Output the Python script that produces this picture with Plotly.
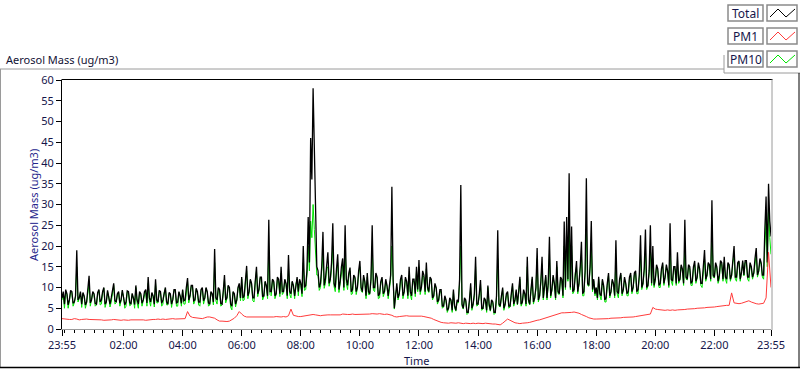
import pandas as pd
import plotly.graph_objects as go

# ---- data: Total / PM10 every 2.5 min, PM1 every 5 min, from 23:55 ----
START = "2013-01-01 23:55"

TOTAL = [7.5, 9.0,
    6.0, 9.5, 8.5, 5.8, 7.0, 9.3, 9.0, 6.2, 6.5, 8.0, 19.0, 7.0, 7.5, 9.0, 6.0, 8.8, 8.0, 5.8, 6.5, 9.2, 12.8, 6.3, 7.0, 9.0,
    8.5, 6.2, 6.0, 8.8, 9.5, 6.5, 7.0, 9.0, 10.0, 6.0, 6.5, 9.3, 8.0, 6.0, 7.5, 9.5, 11.0, 6.8, 6.5, 8.5, 9.0, 6.2, 7.0, 9.4,
    8.0, 5.8, 6.5, 9.2, 9.0, 6.4, 6.0, 8.6, 7.5, 5.9, 10.5, 7.0, 6.0, 9.0, 8.5, 6.2, 7.0, 9.0, 9.5, 6.3, 12.5, 7.5, 6.5, 8.8,
    8.0, 6.0, 12.0, 7.0, 6.5, 9.3, 9.0, 6.2, 7.0, 9.0, 10.0, 6.5, 6.0, 8.8, 8.5, 6.0, 7.0, 9.5, 9.5, 6.3, 6.5, 9.0, 8.0, 6.2,
    9.5, 6.8, 7.0, 10.0, 12.3, 7.0, 8.0, 10.5, 10.5, 6.8, 7.0, 9.8, 9.0, 6.5, 6.5, 9.5, 10.0, 6.8, 7.5, 10.0, 9.0, 6.3, 6.0, 9.0,
    8.5, 6.5, 19.3, 7.5, 7.0, 10.0, 9.5, 6.2, 6.0, 9.0, 13.0, 7.0, 7.5, 10.5, 10.0, 6.0, 5.5, 9.0, 8.5, 6.0, 7.0, 10.0, 11.0, 7.5,
    12.5, 7.5, 8.0, 11.5, 15.2, 8.0, 9.0, 12.0, 11.0, 7.5, 7.5, 11.5, 15.0, 8.5, 9.5, 12.5, 12.5, 7.8, 8.0, 11.5, 10.5, 8.0, 26.3, 9.0,
    9.0, 12.0, 11.5, 8.0, 8.5, 12.5, 12.0, 8.5, 15.0, 9.0, 9.0, 12.0, 11.0, 8.0, 17.8, 9.0, 8.5, 11.5, 10.5, 8.0, 11.0, 12.5, 9.0, 12.0,
    11.0, 8.5, 20.0, 10.0, 10.5, 14.0, 27.0, 16.0, 46.0, 36.0, 58.0, 44.0, 25.0, 15.0, 14.0, 10.0, 11.0, 15.0, 23.4, 10.5, 12.0, 16.0, 18.5, 11.0,
    12.0, 16.0, 25.5, 11.0, 10.0, 14.5, 18.0, 9.5, 11.5, 15.0, 17.0, 10.0, 25.0, 12.0, 10.5, 13.5, 14.8, 9.0, 9.5, 13.0, 12.5, 9.0, 10.0, 14.0,
    16.4, 10.0, 9.0, 13.0, 11.5, 8.0, 13.5, 9.0, 8.5, 12.0, 25.0, 10.0, 10.0, 13.5, 12.5, 8.0, 8.5, 11.5, 12.5, 8.5, 9.0, 12.0, 10.5, 8.0,
    10.0, 13.0, 34.3, 12.0, 5.0, 9.0, 11.0, 7.5, 8.5, 12.0, 13.0, 8.0, 9.0, 12.5, 11.5, 8.0, 15.0, 9.0, 8.0, 12.0, 12.0, 8.5, 15.0, 9.5,
    16.6, 9.0, 10.0, 14.0, 13.0, 9.0, 16.0, 10.0, 9.0, 12.5, 12.0, 7.5, 8.0, 11.0, 10.0, 6.5, 7.0, 9.5, 9.5, 5.5, 5.5, 8.0, 7.0, 4.5,
    5.0, 7.5, 7.0, 4.5, 9.5, 5.5, 4.5, 7.0, 6.5, 12.0, 34.7, 6.0, 5.0, 7.5, 7.0, 4.0, 4.0, 7.0, 11.0, 5.0, 6.0, 8.5, 17.4, 6.0,
    6.0, 8.5, 11.8, 5.0, 5.0, 7.5, 7.0, 4.5, 10.5, 6.0, 4.5, 7.0, 6.5, 4.0, 4.0, 8.0, 23.8, 6.0, 5.5, 8.0, 10.0, 5.0, 6.0, 8.5,
    9.0, 5.5, 5.5, 8.5, 11.0, 6.0, 7.0, 9.5, 6.0, 9.0, 12.6, 6.0, 6.5, 9.5, 8.5, 6.0, 17.4, 7.0, 6.0, 9.5, 12.6, 6.5, 7.5, 10.0,
    19.5, 7.0, 8.0, 11.5, 17.4, 7.5, 10.0, 13.0, 7.5, 11.0, 22.2, 8.0, 9.5, 13.0, 11.0, 7.5, 16.4, 9.0, 8.5, 12.5, 12.0, 8.0, 25.9, 10.0,
    27.0, 12.0, 37.5, 10.0, 24.7, 9.0, 9.5, 14.0, 16.4, 9.0, 11.0, 15.0, 21.0, 8.5, 9.0, 14.0, 36.3, 11.0, 10.5, 15.0, 26.0, 9.5, 12.0, 8.5,
    10.0, 7.5, 12.6, 8.5, 8.0, 12.0, 10.5, 7.0, 7.5, 11.0, 13.5, 8.0, 9.0, 12.0, 11.0, 8.0, 21.4, 9.0, 8.5, 12.0, 13.5, 8.5, 9.5, 12.5,
    11.0, 8.5, 9.0, 12.5, 13.5, 9.0, 10.0, 13.5, 14.0, 9.0, 9.5, 13.0, 22.6, 10.0, 11.0, 14.5, 24.0, 10.0, 10.5, 14.0, 25.0, 11.0, 20.0, 10.5,
    12.0, 15.5, 14.5, 10.5, 11.0, 14.5, 16.0, 11.0, 12.5, 15.5, 14.0, 10.5, 25.5, 12.0, 11.5, 15.0, 15.0, 11.0, 18.5, 11.5, 12.0, 15.5, 14.5, 11.0,
    26.3, 12.5, 12.0, 15.5, 15.0, 11.0, 11.5, 15.0, 16.4, 11.5, 12.5, 16.0, 14.5, 11.0, 11.0, 15.0, 19.0, 12.0, 13.0, 16.0, 15.5, 12.0, 31.0, 13.0,
    12.5, 16.0, 15.0, 11.5, 13.0, 16.5, 16.0, 12.0, 17.4, 12.5, 12.0, 16.0, 15.5, 12.0, 13.0, 16.5, 20.0, 12.5, 12.5, 16.0, 16.4, 12.0, 13.5, 16.5,
    13.0, 16.5, 16.5, 12.5, 12.5, 16.0, 15.0, 12.5, 13.5, 17.0, 19.5, 13.0, 14.0, 17.0, 16.0, 13.0, 13.0, 24.0, 31.9, 16.0, 35.0, 26.0, 22.5, 22.0]

PM10 = [7.0, 8.5,
    5.0, 9.0, 8.3, 5.0, 6.8, 9.0, 8.8, 5.5, 6.3, 7.8, 15.0, 6.5, 7.3, 8.8, 5.2, 8.5, 7.8, 5.0, 6.3, 9.0, 11.0, 5.5, 6.8, 8.8,
    8.3, 5.5, 5.8, 8.5, 9.3, 5.8, 6.0, 8.8, 9.8, 5.2, 6.3, 9.0, 7.8, 5.3, 6.5, 9.3, 10.5, 6.0, 6.3, 8.3, 8.8, 5.5, 6.8, 9.0,
    7.8, 5.0, 5.5, 9.0, 8.8, 5.6, 5.8, 8.3, 7.3, 5.0, 10.0, 6.3, 5.0, 8.8, 8.3, 5.5, 6.8, 8.8, 9.3, 5.5, 11.0, 6.8, 5.5, 8.5,
    7.8, 5.3, 11.0, 6.3, 6.3, 9.0, 8.8, 5.5, 6.0, 8.8, 9.8, 5.8, 5.8, 8.5, 8.3, 5.2, 6.8, 9.3, 9.3, 5.5, 5.5, 8.8, 7.8, 5.5,
    9.3, 6.0, 6.0, 9.8, 11.5, 6.3, 7.8, 10.3, 10.3, 6.0, 6.8, 9.5, 8.8, 5.8, 5.5, 9.3, 9.8, 6.0, 7.3, 9.8, 8.8, 5.5, 5.8, 8.8,
    8.3, 5.8, 16.0, 6.8, 6.0, 9.8, 9.3, 5.5, 5.8, 8.8, 12.0, 6.3, 7.3, 10.3, 9.8, 5.3, 4.6, 8.8, 8.3, 5.3, 6.8, 9.8, 10.5, 6.8,
    12.0, 6.8, 7.0, 11.3, 14.0, 7.3, 8.8, 11.8, 10.8, 6.8, 6.5, 11.3, 14.0, 7.8, 9.3, 12.3, 12.0, 7.0, 7.8, 11.3, 10.3, 7.3, 19.0, 8.3,
    8.0, 11.8, 11.3, 7.3, 8.3, 12.0, 11.5, 7.8, 13.5, 8.3, 8.8, 11.8, 10.8, 7.3, 14.5, 8.3, 7.5, 11.3, 10.3, 7.3, 10.8, 12.0, 8.0, 11.8,
    10.5, 7.8, 16.0, 9.3, 9.5, 13.0, 20.0, 14.0, 26.0, 22.0, 30.0, 24.0, 18.0, 13.0, 13.0, 9.3, 10.0, 13.5, 18.0, 9.8, 11.0, 14.5, 15.0, 10.3,
    11.8, 14.5, 20.0, 10.3, 9.0, 13.5, 16.0, 8.8, 11.3, 14.0, 15.5, 9.3, 20.0, 11.0, 9.5, 13.0, 14.0, 8.3, 8.5, 12.5, 12.3, 8.3, 9.8, 13.5,
    15.0, 9.3, 8.8, 12.5, 11.3, 7.3, 12.5, 8.3, 8.3, 11.5, 20.0, 9.3, 9.0, 13.0, 12.3, 7.3, 7.5, 11.0, 12.0, 7.8, 8.8, 11.5, 10.3, 7.3,
    9.8, 12.0, 20.0, 11.0, 4.8, 8.3, 10.0, 7.0, 8.3, 11.5, 12.0, 7.3, 8.8, 12.0, 11.3, 7.3, 13.0, 8.3, 7.0, 11.5, 11.5, 7.8, 14.0, 9.0,
    15.0, 8.3, 9.8, 13.0, 12.5, 8.3, 14.5, 9.3, 8.8, 12.0, 11.5, 7.0, 7.8, 10.5, 9.8, 6.0, 6.8, 9.0, 9.0, 5.0, 5.3, 7.5, 6.8, 4.0,
    4.8, 7.0, 6.8, 4.0, 9.0, 5.0, 4.3, 6.5, 6.3, 11.0, 20.0, 5.5, 4.8, 7.0, 6.8, 3.5, 3.8, 6.5, 10.0, 4.5, 5.8, 8.0, 15.0, 5.5,
    5.8, 8.0, 11.0, 4.5, 4.8, 7.0, 6.8, 4.0, 10.0, 5.5, 4.3, 6.5, 6.3, 3.5, 3.8, 7.5, 17.0, 5.5, 5.3, 7.5, 9.5, 4.5, 5.8, 8.0,
    8.8, 5.0, 5.3, 8.0, 10.5, 5.5, 6.8, 9.0, 5.8, 8.5, 12.0, 5.5, 6.3, 9.0, 8.3, 5.5, 15.0, 6.5, 5.8, 9.0, 12.0, 6.0, 7.3, 9.5,
    17.0, 6.5, 7.8, 11.0, 15.5, 7.0, 9.8, 12.5, 7.0, 10.5, 18.0, 7.5, 9.3, 12.5, 10.5, 7.0, 15.0, 8.5, 8.3, 12.0, 11.5, 7.5, 20.0, 9.5,
    22.0, 11.5, 26.0, 9.5, 20.0, 8.5, 9.0, 13.5, 15.0, 8.5, 10.8, 14.5, 18.0, 8.0, 8.0, 13.5, 25.0, 10.5, 10.3, 14.5, 20.0, 9.0, 11.5, 8.0,
    9.8, 7.0, 12.0, 8.0, 7.0, 11.5, 10.3, 6.5, 6.5, 10.5, 13.0, 7.5, 8.8, 11.5, 10.8, 7.5, 17.0, 8.5, 7.5, 11.5, 13.0, 8.0, 9.3, 12.0,
    10.8, 8.0, 8.0, 12.0, 13.0, 8.5, 9.8, 13.0, 13.5, 8.5, 8.5, 12.5, 18.0, 9.5, 10.8, 14.0, 19.0, 9.5, 10.3, 13.5, 20.0, 10.5, 17.0, 10.0,
    11.8, 15.0, 14.0, 10.0, 10.0, 14.0, 15.5, 10.5, 12.3, 15.0, 13.5, 10.0, 20.0, 11.5, 10.5, 14.5, 14.5, 10.5, 16.0, 11.0, 11.8, 15.0, 14.0, 10.5,
    20.0, 12.0, 11.8, 15.0, 14.5, 10.5, 10.5, 14.5, 15.5, 11.0, 12.3, 15.5, 14.0, 10.5, 10.0, 14.5, 17.0, 11.5, 12.8, 15.5, 15.0, 11.5, 24.0, 12.5,
    12.3, 15.5, 14.5, 11.0, 12.0, 16.0, 15.5, 11.5, 16.0, 12.0, 11.0, 15.5, 15.0, 11.5, 12.8, 16.0, 17.5, 12.0, 11.5, 15.5, 16.0, 11.5, 13.3, 16.0,
    12.8, 16.0, 16.0, 12.0, 11.5, 15.5, 14.5, 12.0, 13.3, 16.5, 18.0, 12.5, 13.8, 16.5, 15.5, 12.5, 12.0, 20.0, 26.0, 15.0, 29.5, 22.0, 18.0, 18.0]

PM1 = [2.5,
    2.4, 2.4, 2.3, 2.3, 2.5, 2.4, 2.2, 2.3, 2.4, 2.4, 2.3, 2.3,
    2.2, 2.2, 2.3, 2.2, 2.1, 2.1, 2.2, 2.2, 2.3, 2.2, 2.1, 2.1,
    2.2, 2.1, 2.1, 2.2, 2.2, 2.3, 2.3, 2.2, 2.2, 2.1, 2.2, 2.2,
    2.3, 2.3, 2.4, 2.3, 2.4, 2.3, 2.4, 2.4, 2.5, 2.4, 2.4, 2.4,
    2.4, 2.5, 4.2, 3.1, 2.8, 2.7, 2.6, 2.6, 2.5, 2.7, 2.9, 2.9,
    2.8, 2.6, 2.2, 1.9, 1.9, 1.8, 1.8, 1.9, 2.2, 2.6, 3.2, 4.2,
    3.6, 3.1, 2.9, 2.9, 2.8, 2.8, 2.9, 2.8, 2.9, 2.9, 2.8, 2.9,
    2.9, 2.9, 3.0, 2.9, 2.9, 3.0, 2.9, 3.2, 4.8, 3.3, 3.1, 3.0,
    3.0, 3.1, 3.2, 3.2, 3.3, 3.5, 3.4, 3.3, 3.2, 3.3, 3.4, 3.4,
    3.4, 3.4, 3.5, 3.4, 3.4, 3.6, 3.5, 3.5, 3.5, 3.6, 3.5, 3.5,
    3.6, 3.6, 3.5, 3.6, 3.6, 3.7, 3.6, 3.6, 3.7, 3.6, 3.5, 3.6,
    3.5, 3.3, 3.0, 2.9, 3.0, 3.1, 3.1, 3.2, 3.1, 3.1, 3.2, 3.1,
    3.1, 3.1, 3.0, 2.9, 2.8, 2.6, 2.3, 2.0, 1.8, 1.6, 1.5, 1.4,
    1.4, 1.5, 1.4, 1.4, 1.5, 1.4, 1.3, 1.4, 1.3, 1.3, 1.4, 1.3,
    1.4, 1.3, 1.3, 1.4, 1.3, 1.3, 1.2, 1.2, 1.1, 1.0, 1.4, 2.0,
    2.4, 2.1, 1.7, 1.5, 1.4, 1.3, 1.4, 1.4, 1.5, 1.6, 1.8, 1.9,
    2.1, 2.2, 2.4, 2.6, 2.8, 3.0, 3.1, 3.3, 3.6, 3.8, 3.9, 3.9,
    3.9, 4.0, 4.0, 4.1, 4.0, 3.8, 3.5, 3.3, 3.0, 2.7, 2.5, 2.4,
    2.4, 2.4, 2.4, 2.5, 2.5, 2.5, 2.6, 2.6, 2.7, 2.7, 2.7, 2.8,
    2.8, 2.8, 2.9, 2.9, 3.0, 3.1, 3.2, 3.2, 3.3, 3.4, 3.6, 5.2,
    4.8, 4.7, 4.6, 4.6, 4.5, 4.6, 4.5, 4.6, 4.5, 4.6, 4.6, 4.7,
    4.7, 4.8, 4.8, 4.9, 4.9, 5.0, 5.0, 5.1, 5.1, 5.2, 5.2, 5.3,
    5.3, 5.4, 5.5, 5.5, 5.6, 5.7, 5.7, 8.7, 6.3, 6.2, 6.1, 6.2,
    6.4, 6.6, 6.8, 6.5, 6.2, 6.1, 6.0, 6.1, 6.2, 7.5, 18.5, 10.0]

SERIES_NAMES = ["Total", "PM1", "PM10"]
SERIES_COLORS = ["#000000", "#ff3b3b", "#00e600"]
TICK_TIMES = ["2013-01-01 23:55", "2013-01-02 02:00", "2013-01-02 04:00",
              "2013-01-02 06:00", "2013-01-02 08:00", "2013-01-02 10:00",
              "2013-01-02 12:00", "2013-01-02 14:00", "2013-01-02 16:00",
              "2013-01-02 18:00", "2013-01-02 20:00", "2013-01-02 22:00",
              "2013-01-02 23:55"]
TICK_LABELS = ["23:55", "02:00", "04:00", "06:00", "08:00", "10:00", "12:00",
               "14:00", "16:00", "18:00", "20:00", "22:00", "23:55"]
Y_TICKS = list(range(0, 61, 5))

t_total = pd.date_range(START, periods=len(TOTAL), freq="150s")
t_pm10 = pd.date_range(START, periods=len(PM10), freq="150s")
t_pm1 = pd.date_range(START, periods=len(PM1), freq="5min")

# ---- layout geometry (pixels) ----
W, H = 800, 369
L, R, T, B = 62, 29, 80, 40
PW, PH = W - L - R, H - T - B


def px(x):
    return (x - L) / PW


def py(y):
    return (H - B - y) / PH


FONT = "Noto Sans"
FS = 11
TXT = "#15154a"

fig = go.Figure()
fig.add_trace(go.Scatter(x=t_pm10, y=PM10, mode="lines", name="PM10",
                         line=dict(color=SERIES_COLORS[2], width=1)))
fig.add_trace(go.Scatter(x=t_total, y=TOTAL, mode="lines", name="Total",
                         line=dict(color=SERIES_COLORS[0], width=1.3)))
fig.add_trace(go.Scatter(x=t_pm1, y=PM1, mode="lines", name="PM1",
                         line=dict(color=SERIES_COLORS[1], width=1)))

shapes = []
# plot frame: top black, right gray
shapes.append(dict(type="line", xref="paper", yref="paper", x0=px(61.5), x1=px(772.5),
                   y0=py(79.5), y1=py(79.5), line=dict(color="#000000", width=1)))
shapes.append(dict(type="line", xref="paper", yref="paper", x0=px(772), x1=px(772),
                   y0=py(79.5), y1=py(330), line=dict(color="#9a9a9a", width=1)))
# outer panel borders
shapes.append(dict(type="line", xref="paper", yref="paper", x0=px(0), x1=px(724),
                   y0=py(69), y1=py(69), line=dict(color="#9a9a9a", width=1)))
shapes.append(dict(type="line", xref="paper", yref="paper", x0=px(724), x1=px(724),
                   y0=py(55), y1=py(73), line=dict(color="#9a9a9a", width=1)))
shapes.append(dict(type="line", xref="paper", yref="paper", x0=px(724), x1=px(800),
                   y0=py(73), y1=py(73), line=dict(color="#9a9a9a", width=1)))
shapes.append(dict(type="line", xref="paper", yref="paper", x0=px(0.5), x1=px(0.5),
                   y0=py(69), y1=py(367), line=dict(color="#9a9a9a", width=1)))
shapes.append(dict(type="line", xref="paper", yref="paper", x0=px(0), x1=px(800),
                   y0=py(367.5), y1=py(367.5), line=dict(color="#000000", width=1.5)))
shapes.append(dict(type="line", xref="paper", yref="paper", x0=px(799), x1=px(799),
                   y0=py(73), y1=py(368), line=dict(color="#000000", width=1)))

annotations = []
# legend boxes
for i, (name, col) in enumerate(zip(SERIES_NAMES, SERIES_COLORS)):
    cy = 13 + 23 * i
    shapes.append(dict(type="rect", xref="paper", yref="paper",
                       x0=px(728), x1=px(763), y0=py(cy - 8), y1=py(cy + 8),
                       line=dict(color="#8a8a8a", width=1.5), fillcolor="white"))
    shapes.append(dict(type="rect", xref="paper", yref="paper",
                       x0=px(767), x1=px(797), y0=py(cy - 8), y1=py(cy + 8),
                       line=dict(color="#8a8a8a", width=1.5), fillcolor="white"))
    path = "M {} {} L {} {} L {} {} L {} {}".format(
        px(770), py(cy + 4), px(778), py(cy - 4),
        px(786), py(cy + 4), px(795), py(cy - 4))
    shapes.append(dict(type="path", xref="paper", yref="paper", path=path,
                       line=dict(color=col, width=1)))
    annotations.append(dict(xref="paper", yref="paper", x=px(745.5), y=py(cy),
                            text=name, showarrow=False, xanchor="center",
                            yanchor="middle", font=dict(family=FONT, size=FS + 1, color=TXT)))

annotations.append(dict(xref="paper", yref="paper", x=px(4), y=py(59),
                        text="Aerosol Mass (ug/m3)", showarrow=False, xanchor="left",
                        yanchor="middle", font=dict(family=FONT, size=FS, color="#111133")))
annotations.append(dict(xref="paper", yref="paper", x=px(33), y=py(205),
                        text="Aerosol Mass (ug/m3)", showarrow=False, textangle=-90,
                        xanchor="center", yanchor="middle",
                        font=dict(family=FONT, size=FS, color="#25258c")))
annotations.append(dict(xref="paper", yref="paper", x=px(416), y=py(360),
                        text="Time", showarrow=False, xanchor="center",
                        yanchor="middle", font=dict(family=FONT, size=FS, color=TXT)))

fig.update_layout(
    width=W, height=H,
    margin=dict(l=L, r=R, t=T, b=B, pad=0),
    paper_bgcolor="white", plot_bgcolor="white",
    showlegend=False,
    font=dict(family=FONT, size=FS, color=TXT),
    shapes=shapes, annotations=annotations,
    xaxis=dict(
        type="date",
        range=[pd.Timestamp(TICK_TIMES[0]), pd.Timestamp(TICK_TIMES[-1])],
        tickmode="array",
        tickvals=[pd.Timestamp(t) for t in TICK_TIMES],
        ticktext=TICK_LABELS,
        ticks="outside", ticklen=6, tickwidth=1, tickcolor="#000000",
        minor=dict(tickmode="linear", tick0="2013-01-02 00:00", dtick=20 * 60 * 1000,
                   ticks="outside", ticklen=3, tickwidth=1, tickcolor="#000000"),
        showgrid=False, zeroline=False,
        showline=True, linecolor="#9a9a9a", linewidth=1,
        tickfont=dict(family=FONT, size=FS, color=TXT),
        fixedrange=True,
    ),
    yaxis=dict(
        range=[0, 60],
        tickmode="array", tickvals=Y_TICKS,
        ticks="outside", ticklen=5, tickwidth=1, tickcolor="#000000",
        showgrid=False, zeroline=False,
        showline=True, linecolor="#000000", linewidth=1,
        tickfont=dict(family=FONT, size=FS, color=TXT),
        fixedrange=True,
    ),
)

fig.write_html("out.html", config={"displayModeBar": False},
               post_script="document.body.style.margin='0';document.body.style.padding='0';")
